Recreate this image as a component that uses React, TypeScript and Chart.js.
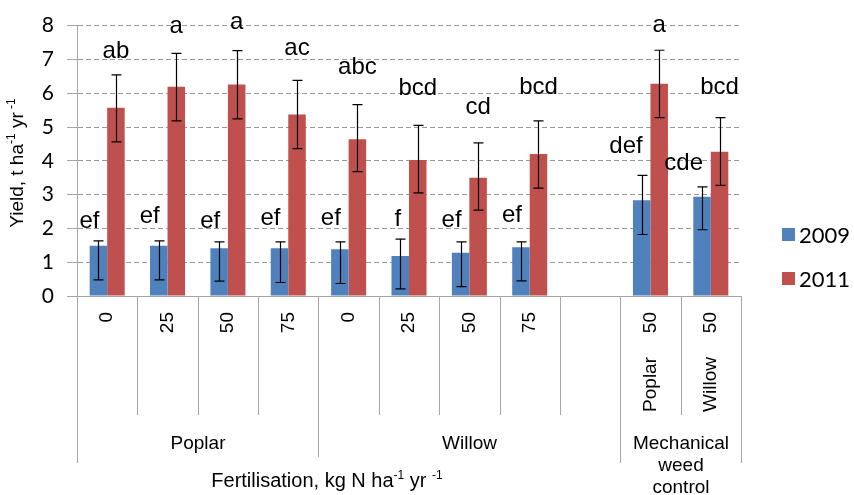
import React, { useEffect, useRef } from "react";
import { Chart, registerables } from "chart.js";

Chart.register(...registerables);

// ---------- data ----------
const categories = ["0", "25", "50", "75", "0", "25", "50", "75", "", "50", "50"];
const subCategories = ["", "", "", "", "", "", "", "", "", "Poplar", "Willow"];
const groupNames = [["Poplar"], ["Willow"], ["Mechanical", "weed", "control"]];
const groupFirst = [0, 4, 9];
const groupLast = [3, 8, 10];
const seriesNames = ["2009", "2011"];

const yield2009 = [1.49, 1.49, 1.41, 1.41, 1.38, 1.18, 1.28, 1.44, null, 2.83, 2.94];
const yield2009High = [1.63, 1.63, 1.6, 1.6, 1.6, 1.68, 1.6, 1.6, null, 3.57, 3.23];
const yield2009Low = [0.48, 0.48, 0.44, 0.4, 0.37, 0.21, 0.28, 0.45, null, 1.82, 1.96];

const yield2011 = [5.57, 6.19, 6.26, 5.37, 4.64, 4.02, 3.5, 4.2, null, 6.28, 4.27];
const yield2011High = [6.54, 7.18, 7.26, 6.38, 5.66, 5.05, 4.53, 5.18, null, 7.27, 5.28];
const yield2011Low = [4.56, 5.18, 5.24, 4.36, 3.68, 3.05, 2.54, 3.19, null, 5.28, 3.27];

const letters2009 = ["ef", "ef", "ef", "ef", "ef", "f", "ef", "ef", "", "def", "cde"];
const letters2011 = ["ab", "a", "a", "ac", "abc", "bcd", "cd", "bcd", "", "a", "bcd"];
// value level (t/ha) at which each significance letter sits
const letters2009At = [2.22, 2.36, 2.22, 2.31, 2.31, 2.26, 2.25, 2.4, null, 4.44, 3.93];
const letters2011At = [7.25, 7.98, 8.1, 7.34, 6.77, 6.15, 5.58, 6.18, null, 8.0, 6.18];

const yMin = 0;
const yMax = 8;
const yStep = 1;

const yTitleRuns = [
  { t: "Yield, t ha", sup: false },
  { t: "-1", sup: true },
  { t: " yr", sup: false },
  { t: " -1", sup: true },
];
const xTitleRuns = [
  { t: "Fertilisation, kg N ha", sup: false },
  { t: "-1", sup: true },
  { t: " yr ", sup: false },
  { t: "-1", sup: true },
];

// ---------- styles ----------
const BLUE = "#4F81BD";
const RED = "#C0504D";
const AXIS = "#a6a6a6";
const ARIAL = "'Liberation Sans', Arial, sans-serif";
const CAL = "Lato, 'Liberation Sans', sans-serif";

type Run = { t: string; sup: boolean };

function drawRuns(ctx: CanvasRenderingContext2D, runs: Run[], x: number, y: number, size: number, family: string) {
  const supSize = Math.round(size * 0.62);
  const fontFor = (sup: boolean) => `${sup ? supSize : size}px ${family}`;
  let total = 0;
  for (const r of runs) {
    ctx.font = fontFor(r.sup);
    total += ctx.measureText(r.t).width;
  }
  let cx = x - total / 2;
  ctx.textAlign = "left";
  ctx.textBaseline = "alphabetic";
  for (const r of runs) {
    ctx.font = fontFor(r.sup);
    ctx.fillText(r.t, cx, y + (r.sup ? -size * 0.4 : 0));
    cx += ctx.measureText(r.t).width;
  }
}

const decorPlugin = {
  id: "decor",
  afterDatasetsDraw(chart: any) {
    const ctx: CanvasRenderingContext2D = chart.ctx;
    const ys = chart.scales.y;
    const highs = [yield2009High, yield2011High];
    const lows = [yield2009Low, yield2011Low];
    const letters = [letters2009, letters2011];
    const lettersAt = [letters2009At, letters2011At];
    ctx.save();
    for (let d = 0; d < 2; d++) {
      const meta = chart.getDatasetMeta(d);
      meta.data.forEach((bar: any, i: number) => {
        const hi = highs[d][i];
        const lo = lows[d][i];
        if (hi == null || lo == null) return;
        const x = Math.round(bar.x) + 0.5;
        const yh = ys.getPixelForValue(hi);
        const yl = ys.getPixelForValue(lo);
        ctx.strokeStyle = "#000";
        ctx.lineWidth = 1.2;
        ctx.beginPath();
        ctx.moveTo(x, yh);
        ctx.lineTo(x, yl);
        ctx.moveTo(x - 5, yh);
        ctx.lineTo(x + 5, yh);
        ctx.moveTo(x - 5, yl);
        ctx.lineTo(x + 5, yl);
        ctx.stroke();
      });
      meta.data.forEach((bar: any, i: number) => {
        const txt = letters[d][i];
        const at = lettersAt[d][i];
        if (!txt || at == null) return;
        ctx.fillStyle = "#000";
        ctx.font = `24px ${ARIAL}`;
        ctx.textBaseline = "middle";
        ctx.textAlign = d === 0 ? "right" : "center";
        ctx.fillText(txt, d === 0 ? bar.x + 1 : bar.x, ys.getPixelForValue(at));
      });
    }
    ctx.restore();
  },
  afterDraw(chart: any) {
    const ctx: CanvasRenderingContext2D = chart.ctx;
    const xs = chart.scales.x;
    const area = chart.chartArea;
    const n = categories.length;
    const step = xs.getPixelForValue(1) - xs.getPixelForValue(0);
    const bound = (i: number) => Math.round(xs.getPixelForValue(i) - step / 2) + 0.5;
    const b = area.bottom;
    ctx.save();
    ctx.strokeStyle = AXIS;
    ctx.lineWidth = 1;
    // separators
    for (let i = 0; i <= n; i++) {
      let end = b + 119;
      if (i === 0 || i === n) end = b + 167;
      else if (groupFirst.includes(i)) end = i === groupFirst[1] ? b + 161 : b + 167;
      ctx.beginPath();
      ctx.moveTo(bound(i), b);
      ctx.lineTo(bound(i), end);
      ctx.stroke();
    }
    // level-1 labels (rotated)
    ctx.fillStyle = "#000";
    for (let i = 0; i < n; i++) {
      const x = xs.getPixelForValue(i);
      ctx.save();
      ctx.translate(x, b + 16);
      ctx.rotate(-Math.PI / 2);
      ctx.font = `19px ${ARIAL}`;
      ctx.textAlign = "right";
      ctx.textBaseline = "middle";
      ctx.fillText(categories[i], 0, 0);
      if (subCategories[i]) ctx.fillText(subCategories[i], -45, 0);
      ctx.restore();
    }
    // group labels
    ctx.font = `19px ${ARIAL}`;
    ctx.textAlign = "center";
    ctx.textBaseline = "alphabetic";
    groupNames.forEach((lines, g) => {
      const cx = (bound(groupFirst[g]) + bound(groupLast[g] + 1)) / 2;
      lines.forEach((ln, k) => ctx.fillText(ln, cx, b + 153 + k * 22));
    });
    // x title
    drawRuns(ctx, xTitleRuns, 327, b + 191, 20, ARIAL);
    // y title
    ctx.save();
    ctx.translate(23, 163);
    ctx.rotate(-Math.PI / 2);
    drawRuns(ctx, yTitleRuns, 0, 0, 19, ARIAL);
    ctx.restore();
    // legend
    const colors = [BLUE, RED];
    const legY = [235, 279];
    seriesNames.forEach((name, k) => {
      ctx.fillStyle = colors[k];
      ctx.fillRect(782, legY[k] - 7, 13, 13);
      ctx.fillStyle = "#000";
      ctx.font = `22px ${CAL}`;
      ctx.textAlign = "left";
      ctx.textBaseline = "middle";
      ctx.fillText(name, 799, legY[k] + 1);
    });
    ctx.restore();
  },
};

export default function App() {
  const ref = useRef<HTMLCanvasElement | null>(null);
  useEffect(() => {
    if (!ref.current) return;
    const chart = new Chart(ref.current, {
      type: "bar",
      data: {
        labels: categories.map((c, i) => `${i}:${c}`),
        datasets: [
          {
            label: seriesNames[0],
            data: yield2009 as any,
            backgroundColor: BLUE,
            borderWidth: 0,
            categoryPercentage: 0.58,
            barPercentage: 1,
          },
          {
            label: seriesNames[1],
            data: yield2011 as any,
            backgroundColor: RED,
            borderWidth: 0,
            categoryPercentage: 0.58,
            barPercentage: 1,
          },
        ],
      },
      options: {
        animation: false,
        responsive: false,
        devicePixelRatio: 1,
        layout: { padding: { top: 15, right: 113, left: 0, bottom: 0 } },
        plugins: { legend: { display: false }, tooltip: { enabled: false } },
        scales: {
          x: {
            grid: { display: false },
            ticks: { display: false },
            border: { display: true, color: AXIS, width: 1 },
            afterFit: (s: any) => {
              s.height = 199;
            },
          },
          y: {
            min: yMin,
            max: yMax,
            ticks: { stepSize: yStep, color: "#000", font: { family: CAL, size: 21 }, padding: 13 },
            grid: { color: "#999", tickLength: 10, tickColor: AXIS, lineWidth: 1 },
            border: { display: true, color: AXIS, dash: [5, 3] },
            afterFit: (s: any) => {
              s.width = 77;
            },
          },
        },
      },
      plugins: [decorPlugin],
    });
    return () => chart.destroy();
  }, []);
  return (
    <div style={{ position: "absolute", left: 0, top: 0, width: 854, height: 495, background: "#fff" }}>
      <canvas ref={ref} width={854} height={495} style={{ display: "block" }} />
    </div>
  );
}
